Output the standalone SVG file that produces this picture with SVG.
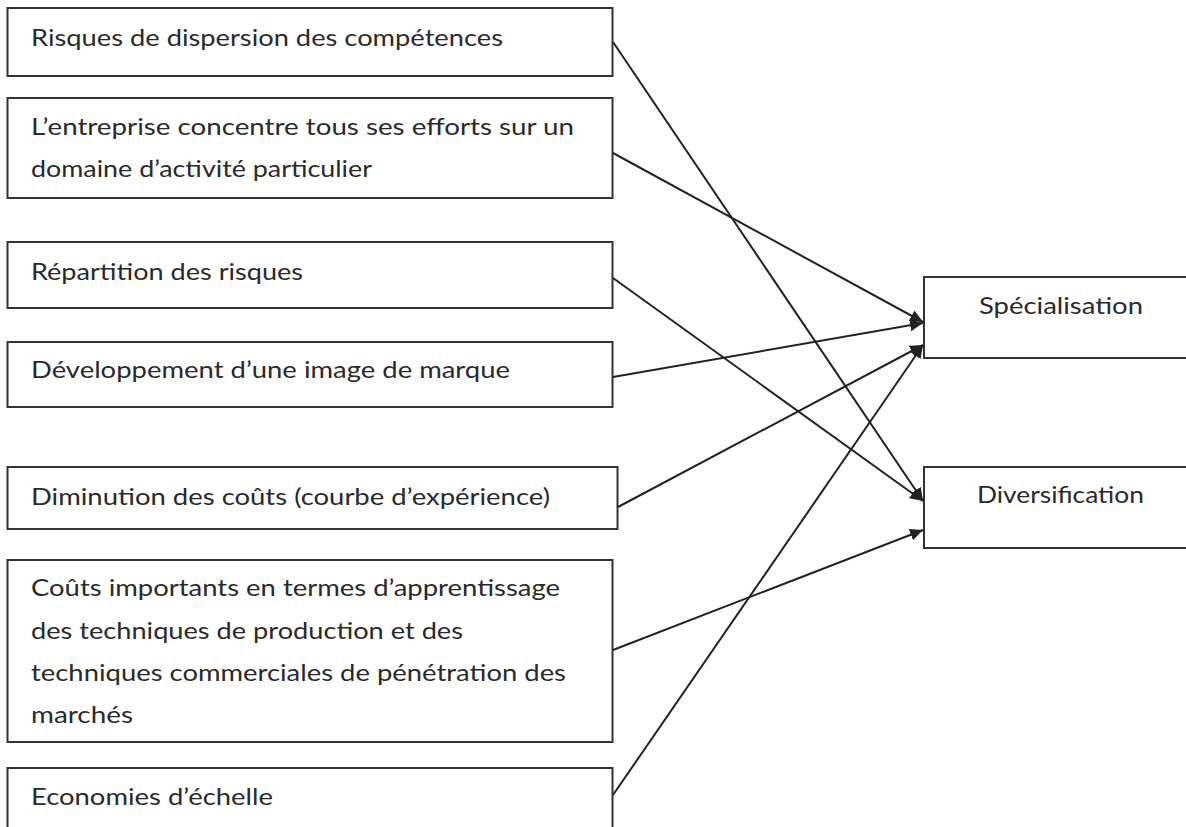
<svg xmlns="http://www.w3.org/2000/svg" width="1186" height="827" viewBox="0 0 1186 827">
<style>
.box{fill:#fff;stroke:#333;stroke-width:2}
.t{font-family:Lato,"Liberation Sans",sans-serif;font-size:24px;fill:#2a2a2a}
.c{fill:none;stroke:#222;stroke-width:2}
</style>
<defs>
<marker id="ah" markerUnits="userSpaceOnUse" markerWidth="14" markerHeight="12" refX="13" refY="6" orient="auto">
<path d="M0,0 L13,6 L0,12 Z" fill="#222"/>
</marker>
</defs>
<rect width="1186" height="827" fill="#fff"/>
<g id="n1"><rect class="box" x="7.5" y="8" width="605" height="68"/><text class="t" x="31" y="46" textLength="472" lengthAdjust="spacingAndGlyphs">Risques de dispersion des compétences</text></g>
<g id="n2"><rect class="box" x="7.5" y="98" width="605" height="100"/><text class="t" x="31" y="135" textLength="543" lengthAdjust="spacingAndGlyphs">L’entreprise concentre tous ses efforts sur un</text><text class="t" x="31" y="177" textLength="341" lengthAdjust="spacingAndGlyphs">domaine d’activité particulier</text></g>
<g id="n3"><rect class="box" x="7.5" y="242" width="605" height="66"/><text class="t" x="31" y="280" textLength="272" lengthAdjust="spacingAndGlyphs">Répartition des risques</text></g>
<g id="n4"><rect class="box" x="7.5" y="342" width="605" height="65"/><text class="t" x="31" y="378" textLength="479" lengthAdjust="spacingAndGlyphs">Développement d’une image de marque</text></g>
<g id="n5"><rect class="box" x="7.5" y="467" width="610" height="62"/><text class="t" x="31" y="505" textLength="519" lengthAdjust="spacingAndGlyphs">Diminution des coûts (courbe d’expérience)</text></g>
<g id="n6"><rect class="box" x="7.5" y="560" width="605" height="182"/><text class="t" x="31" y="596" textLength="529" lengthAdjust="spacingAndGlyphs">Coûts importants en termes d’apprentissage</text><text class="t" x="31" y="639" textLength="432" lengthAdjust="spacingAndGlyphs">des techniques de production et des</text><text class="t" x="31" y="681" textLength="535" lengthAdjust="spacingAndGlyphs">techniques commerciales de pénétration des</text><text class="t" x="31" y="723" textLength="102" lengthAdjust="spacingAndGlyphs">marchés</text></g>
<g id="n7"><rect class="box" x="7.5" y="768" width="605" height="80"/><text class="t" x="31" y="805" textLength="242" lengthAdjust="spacingAndGlyphs">Economies d’échelle</text></g>
<g id="spec"><rect class="box" x="924" y="277" width="280" height="81"/><text class="t" x="979" y="314" textLength="164" lengthAdjust="spacingAndGlyphs">Spécialisation</text></g>
<g id="div"><rect class="box" x="924" y="467" width="280" height="81"/><text class="t" x="977" y="503" textLength="167" lengthAdjust="spacingAndGlyphs">Diversification</text></g>
<g id="connectors">
<line class="c" x1="613" y1="42" x2="923" y2="501" marker-end="url(#ah)"/>
<line class="c" x1="613" y1="153" x2="923" y2="322" marker-end="url(#ah)"/>
<line class="c" x1="613" y1="278" x2="923" y2="501" marker-end="url(#ah)"/>
<line class="c" x1="613" y1="377" x2="923" y2="323" marker-end="url(#ah)"/>
<line class="c" x1="618" y1="507" x2="923" y2="345" marker-end="url(#ah)"/>
<line class="c" x1="613" y1="650" x2="923" y2="530" marker-end="url(#ah)"/>
<line class="c" x1="613" y1="795" x2="923" y2="345" marker-end="url(#ah)"/>
</g>
</svg>
